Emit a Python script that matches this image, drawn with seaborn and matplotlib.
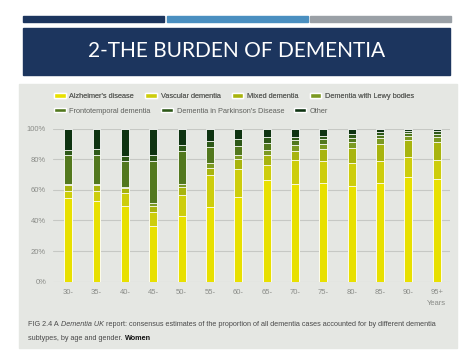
import numpy as np
import pandas as pd
import seaborn as sns
import matplotlib.pyplot as plt
from matplotlib.patches import Rectangle, Patch

# age groups (women)
ages = ['30-', '35-', '40-', '45-', '50-', '55-', '60-', '65-', '70-', '75-', '80-', '85-', '90-', '95+']

subtypes = ["Alzheimer's disease", "Vascular dementia", "Mixed dementia", "Dementia with Lewy bodies",
            "Frontotemporal dementia", "Dementia in Parkinson's Disease", "Other"]

# % share of each subtype
alzheimers = [54.5, 52.7, 49.2, 36.5, 42.7, 48.6, 55.1, 66.1, 63.5, 64.3, 62.4, 64.3, 68.3, 67.2]
vascular = [5.0, 6.6, 8.6, 8.8, 14.0, 20.8, 18.6, 10.3, 15.7, 14.3, 15.3, 14.3, 13.1, 12.4]
mixed = [3.5, 3.9, 3.5, 3.9, 4.8, 4.8, 6.2, 6.1, 5.9, 7.8, 9.6, 11.6, 10.9, 11.6]
lewy = [1.0, 0.8, 0.7, 2.0, 2.6, 3.0, 3.0, 3.3, 3.9, 3.5, 3.9, 3.7, 2.9, 3.3]
fronto = [18.5, 19.0, 16.6, 27.4, 21.0, 10.5, 5.7, 5.0, 3.3, 3.1, 2.9, 2.1, 2.0, 2.2]
parkinsons = [3.3, 3.8, 3.2, 3.9, 3.9, 4.4, 4.4, 3.7, 2.4, 2.2, 2.0, 1.8, 1.3, 1.5]
other = [14.2, 13.2, 18.2, 17.5, 11.0, 7.9, 7.0, 5.5, 5.3, 4.8, 3.9, 2.2, 1.5, 1.8]

colors = ['#e8e000', '#cdcd0c', '#a8b40e', '#7c9a22', '#52781e', '#2d5818', '#0e3311']

df = pd.DataFrame({'age': ages, subtypes[0]: alzheimers, subtypes[1]: vascular, subtypes[2]: mixed,
                   subtypes[3]: lewy, subtypes[4]: fronto, subtypes[5]: parkinsons, subtypes[6]: other})
cum = df[subtypes].cumsum(axis=1)

sns.set_theme(style='white')
plt.rcParams['font.family'] = ['Liberation Sans', 'DejaVu Sans']

fig = plt.figure(figsize=(4.74, 3.55), dpi=100)
fig.patch.set_facecolor('white')

# slide decoration: three top strips, title banner, grey panel
for x0, c in [(0.0485, '#1c355e'), (0.352, '#4a8fc0'), (0.654, '#9aa0a6')]:
    fig.patches.append(Rectangle((x0, 0.938), 0.2975, 0.017, transform=fig.transFigure, color=c, zorder=-2))
fig.patches.append(Rectangle((0.0485, 0.789), 0.901, 0.132, transform=fig.transFigure, color='#1c355e', zorder=-2))
fig.text(0.5, 0.856, '2-THE BURDEN OF DEMENTIA', color='white', fontsize=15, ha='center', va='center',
         family=['Lato', 'DejaVu Sans'])
fig.patches.append(Rectangle((0.040, 0.0197), 0.924, 0.744, transform=fig.transFigure, color='#e5e7e3', zorder=-2))

ax = fig.add_axes([0.112, 0.2065, 0.837, 0.4315])
ax.set_facecolor('none')

# stacked bars: draw cumulative totals from the top down
for i in reversed(range(len(subtypes))):
    sns.barplot(x=df['age'], y=cum[subtypes[i]], color=colors[i], width=0.28, saturation=1,
                edgecolor='white', linewidth=0.6, ax=ax, zorder=3)

ax.set_xlim(-0.53, 13.46)
ax.set_ylim(0, 100)
ax.set_yticks(range(0, 101, 20))
ax.set_yticklabels([f'{v}%' for v in range(0, 101, 20)])
ax.yaxis.grid(True, color='#c6c8c4', lw=0.8)
ax.set_axisbelow(True)
ax.set_xlabel('')
ax.set_ylabel('')
sns.despine(ax=ax, left=True, bottom=True)
ax.tick_params(length=0, labelsize=5.5, colors='#8a8c88', pad=5)
ax.annotate('Years', xy=(13, 0), xycoords=('data', 'axes fraction'), xytext=(0, -16),
            textcoords='offset points', ha='center', va='center', fontsize=5.5, color='#8a8c88')

# legend in two rows
handles = [Patch(facecolor=c) for c in colors]
leg_kw = dict(frameon=False, handlelength=1.6, handleheight=0.6, handletextpad=0.5,
              borderpad=0, borderaxespad=0, labelcolor='#5f615d', prop={'size': 5.3})
leg1 = fig.legend(handles[:4], subtypes[:4], ncol=4, loc='center left', bbox_to_anchor=(0.114, 0.727),
                  columnspacing=1.5, **leg_kw)
leg2 = fig.legend(handles[4:], subtypes[4:], ncol=3, loc='center left', bbox_to_anchor=(0.114, 0.687),
                  columnspacing=1.4, **leg_kw)
fig.add_artist(leg1)

# caption with mixed styles, each piece placed after the previous one
cap = dict(fontsize=5.2, color='#4a4a4a')
line1 = [('FIG 2.4 A ', {}), ('Dementia UK', {'style': 'italic'}),
         (' report: consensus estimates of the proportion of all dementia cases accounted for by different dementia', {})]
line2 = [('subtypes, by age and gender. ', {}), ('Women', {'weight': 'bold', 'color': '#111111'})]
for y, pieces in [(0.0817, line1), (0.0423, line2)]:
    t = None
    for s, kw in pieces:
        style = {**cap, **kw}
        if t is None:
            t = fig.text(0.06, y, s, va='baseline', **style)
        else:
            t = ax.annotate(s, xy=(1, 0), xycoords=t, va='bottom', ha='left',
                            annotation_clip=False, **style)

plt.savefig('out.png', dpi=100)
